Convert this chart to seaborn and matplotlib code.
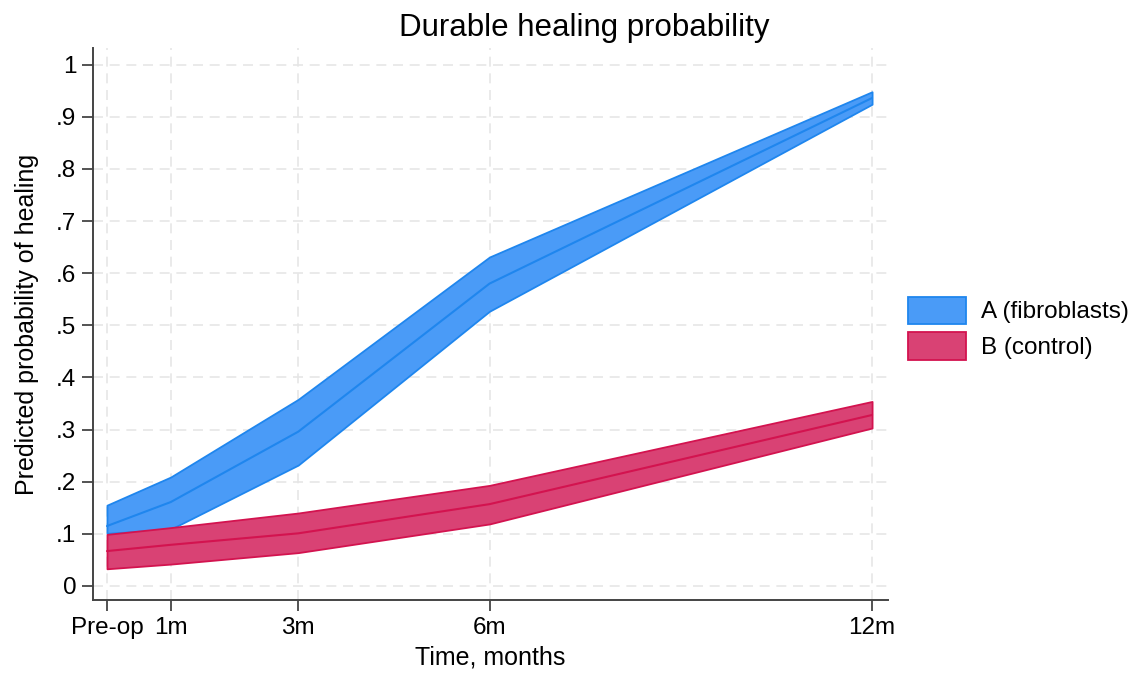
import matplotlib
matplotlib.use("Agg")
import matplotlib.pyplot as plt
import seaborn as sns
import pandas as pd
from matplotlib.patches import Patch

months = [0, 1, 3, 6, 12]
tick_labels = ["Pre-op", "1m", "3m", "6m", "12m"]

a_mean = [0.115, 0.161, 0.296, 0.580, 0.936]
a_low = [0.101, 0.109, 0.232, 0.527, 0.924]
a_high = [0.155, 0.209, 0.358, 0.631, 0.948]

b_mean = [0.067, 0.079, 0.101, 0.157, 0.328]
b_low = [0.033, 0.042, 0.064, 0.119, 0.303]
b_high = [0.099, 0.112, 0.140, 0.193, 0.354]

groups = ["A (fibroblasts)", "B (control)"]
fill_colors = ["#4a9bf7", "#d94274"]
edge_colors = ["#1f86ee", "#d3134f"]

df = pd.DataFrame({
    "month": months * 2,
    "prob": a_mean + b_mean,
    "low": a_low + b_low,
    "high": a_high + b_high,
    "group": [groups[0]] * 5 + [groups[1]] * 5,
})

sns.set_theme(style="white")
plt.rcParams["font.family"] = ["Liberation Sans", "DejaVu Sans"]
plt.rcParams["text.color"] = "black"

fig = plt.figure(figsize=(11.42, 6.75), dpi=100)
ax = fig.add_axes([0.0814, 0.111, 0.6962, 0.818])

for g, fc, ec in zip(groups, fill_colors, edge_colors):
    sub = df[df["group"] == g]
    ax.fill_between(sub["month"], sub["low"], sub["high"], facecolor=fc,
                    edgecolor=ec, linewidth=1.3, zorder=2)

sns.lineplot(data=df, x="month", y="prob", hue="group", palette=edge_colors,
             linewidth=1.5, legend=False, ax=ax, zorder=3)

ax.set_xlim(-0.22, 12.25)
ax.set_ylim(-0.027, 1.032)
ax.set_xticks(months)
ax.set_xticklabels(tick_labels)
yt = [i / 10 for i in range(11)]
ax.set_yticks(yt)
ax.set_yticklabels(["0"] + ["." + str(i) for i in range(1, 10)] + ["1"])

ax.grid(True, color="#e6e6e6", linestyle=(0, (6, 4)), linewidth=1.2, zorder=0)
ax.set_axisbelow(True)
for s in ["top", "right"]:
    ax.spines[s].set_visible(False)
for s in ["left", "bottom"]:
    ax.spines[s].set_color("#444444")
    ax.spines[s].set_linewidth(1.4)
ax.tick_params(axis="both", which="major", direction="out", length=8, width=1.3,
               color="#444444", labelsize=17.5, labelcolor="black", pad=4,
               left=True, bottom=True)

ax.set_xlabel("Time, months", fontsize=18, color="black", labelpad=5)
ax.set_ylabel("Predicted probability of healing", fontsize=18, color="black", labelpad=12)
fig.text(0.512, 0.958, "Durable healing probability", fontsize=22.5, color="black",
         ha="center", va="center")

handles = [Patch(facecolor=fc, edgecolor=ec, linewidth=1.3, label=g)
           for g, fc, ec in zip(groups, fill_colors, edge_colors)]
leg = fig.legend(handles=handles, loc="center left", bbox_to_anchor=(0.776, 0.514),
                 frameon=False, fontsize=17.5, handlelength=2.4, handleheight=1.35,
                 handletextpad=0.6, labelspacing=0.35)
for t in leg.get_texts():
    t.set_color("black")

fig.savefig("out.png", dpi=100)
